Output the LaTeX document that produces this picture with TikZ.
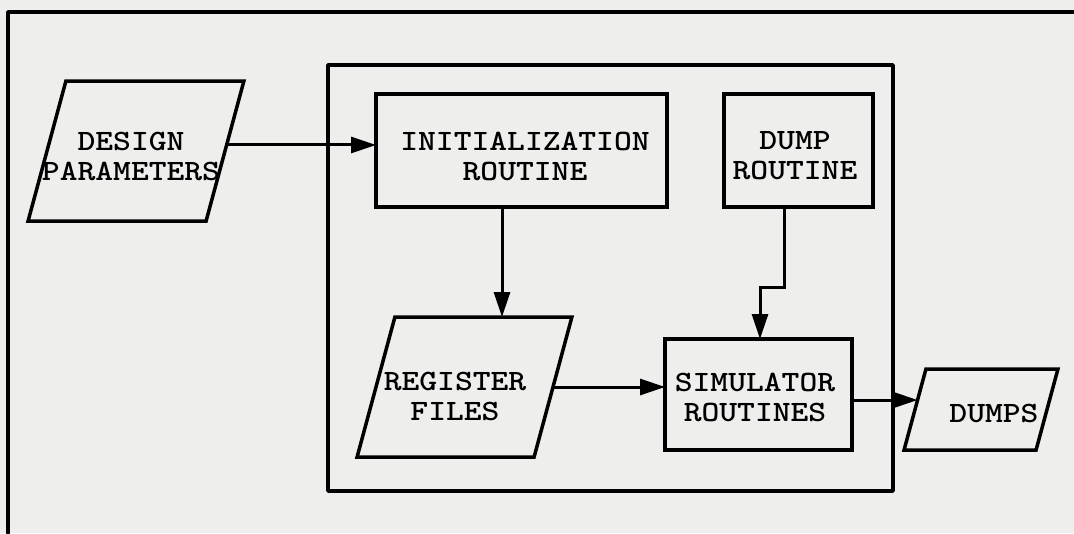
\documentclass[tikz,border=0pt]{standalone}
\usepackage{fontspec}
\newfontfamily\typewriter{lmmonolt10-bold.otf}
\usetikzlibrary{arrows.meta,calc}
\definecolor{paper}{RGB}{238,238,236}
\begin{document}
\begin{tikzpicture}[x=1pt,y=-1pt,
  frame/.style={line width=3.5pt,line cap=round,line join=round},
  procbox/.style={draw,line width=3.5pt,rectangle,inner sep=0pt,outer sep=0pt},
  databox/.style={draw,line width=3.5pt,rectangle,transform shape,inner sep=0pt,outer sep=0pt},
  label/.style={font=\typewriter\fontsize{29.5}{30}\selectfont,align=center,inner sep=0pt,
    xscale=1.15,transform shape},
  flow/.style={line width=3pt,-{Triangle[length=25pt,width=16pt]}}]
\useasboundingbox[fill=paper] (0,0) rectangle (1074,533);

% page frame and program boundary
\draw[frame] (8,533) -- (8,12) -- (1074,12);
\draw[frame] (328,65) rectangle (893,491);

% process boxes
\node[procbox,minimum width=291pt,minimum height=113pt] (init) at (521.5,150.5) {};
\node[procbox,minimum width=149pt,minimum height=113pt] (dump) at (798.5,150.5) {};
\node[procbox,minimum width=187pt,minimum height=111pt] (sim) at (758.5,394.5) {};

% data boxes (slanted rectangles)
\begin{scope}[shift={(136,151)},xslant=0.27]
  \node[databox,minimum width=178pt,minimum height=140pt] (design) at (0,0) {};
\end{scope}
\begin{scope}[shift={(464.5,387)},xslant=0.27]
  \node[databox,minimum width=177pt,minimum height=140pt] (reg) at (0,0) {};
\end{scope}
\begin{scope}[shift={(981,409.5)},xslant=0.27]
  \node[databox,minimum width=132pt,minimum height=81pt] (dumps) at (0,0) {};
\end{scope}

% texts
\node[label] (designtxt) at (131,156) {DESIGN\\PARAMETERS};
\node[label] (inittxt) at (525,156) {INITIALIZATION\\ROUTINE};
\node[label] (dumptxt) at (795,156) {DUMP\\ROUTINE};
\node[label] (regtxt) at (455,396) {REGISTER\\FILES};
\node[label] (simtxt) at (755,397) {SIMULATOR\\ROUTINES};
\node[label] (dumpstxt) at (994,413) {DUMPS};

% connectors
\coordinate (designout) at ($(design.north east)!0.457!(design.south east)$);
\draw[flow] (designout) -- (designout -| init.west);
\draw[flow] ([xshift=-19.5pt]init.south) -- ([xshift=-19.5pt]init.south |- reg.north);
\coordinate (dumpbend) at ([xshift=-14.5pt]dump.south);
\draw[flow] (dumpbend) -- ++(0,80) -| ([xshift=1.5pt]sim.north);
\draw[flow] (reg.east) -- (reg.east -| sim.west);
\coordinate (dumpsin) at ($(dumps.north west)!0.383!(dumps.south west)$);
\draw[flow] (sim.east |- dumpsin) -- (dumpsin);
\end{tikzpicture}
\end{document}
